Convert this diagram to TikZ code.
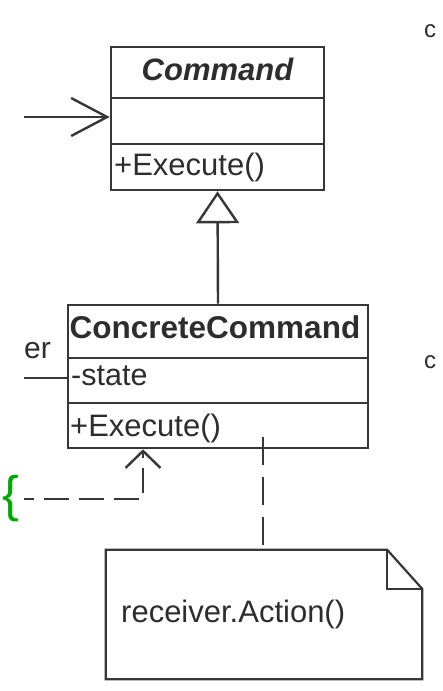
\documentclass[tikz,border=0pt]{standalone}
\usepackage{fontspec}
\setmainfont{Liberation Sans}
\usetikzlibrary{arrows.meta}
\definecolor{ink}{RGB}{55,55,55}
\definecolor{txt}{RGB}{45,45,45}
\definecolor{bracegreen}{RGB}{0,170,0}
\begin{document}
\begin{tikzpicture}[x=1pt,y=-1pt,
  classbox/.style={draw=ink, line width=2.6pt, inner sep=0pt},
  divider/.style={draw=ink, line width=2pt},
  conn/.style={draw=ink, line width=2.4pt},
  dashconn/.style={draw=ink, line width=2.4pt, dash pattern=on 25pt off 10pt},
  notebox/.style={draw=ink, line width=2.2pt, line join=miter},
  title/.style={text=txt, inner sep=0pt, font=\fontsize{30}{36}\selectfont},
  member/.style={text=txt, inner sep=0pt, font=\fontsize{31}{36}\selectfont},
  stray/.style={text=txt, inner sep=0pt, font=\fontsize{24}{28}\selectfont}]
\fill[white] (0,0) rectangle (443,691);
\useasboundingbox (0,0) rectangle (443,691);

% Command class
\node[classbox, minimum width=213pt, minimum height=143pt] (cmd) at (217.5,118.5) {};
\coordinate (cmdd1) at (0,98);
\coordinate (cmdd2) at (0,144);
\draw[divider] (cmd.west |- cmdd1) -- (cmd.east |- cmdd1);
\draw[divider] (cmd.west |- cmdd2) -- (cmd.east |- cmdd2);
\node[title, anchor=base, font=\fontsize{31}{36}\selectfont\bfseries\itshape] (cmdname) at (217.5,80) {Command};
\node[member, anchor=base west] (cmdop) at (114,175) {+Execute()};

% ConcreteCommand class
\node[classbox, minimum width=300pt, minimum height=143pt] (cc) at (218,376.5) {};
\coordinate (ccd1) at (0,358);
\coordinate (ccd2) at (0,403);
\draw[divider] (cc.west |- ccd1) -- (cc.east |- ccd1);
\draw[divider] (cc.west |- ccd2) -- (cc.east |- ccd2);
\node[title, anchor=base, font=\fontsize{31.5}{36}\selectfont\bfseries] (ccname) at (215,338) {ConcreteCommand};
\node[member, anchor=base west, font=\fontsize{30.5}{36}\selectfont] (ccstate) at (71,385) {-state};
\node[member, anchor=base west] (ccop) at (70,436) {+Execute()};

% inheritance
\draw[conn, -{Triangle[open, length=32pt, width=43pt]}] (cc.north) -- (cmd.south);

% incoming association to Command
\coordinate (lin) at (24,117);
\draw[conn, -{Straight Barb[length=36pt, width=38pt]}] (lin) -- (cmd.west |- lin);

% left label and association to state
\node[member, anchor=base west, font=\fontsize{30}{36}\selectfont] (er) at (24,358) {er};
\coordinate (lstate) at (24,378);
\draw[conn] (lstate) -- (cc.west |- lstate);

% dashed dependency
\coordinate (dstart) at (24,499);
\coordinate (dcorner) at (143,499);
\draw[dashconn, dash phase=15pt, -{Straight Barb[length=17pt, width=35pt]}] (dstart) -- (dcorner) -- (cc.south -| dcorner);
\node[text=bracegreen, inner sep=0pt, font=\fontsize{50}{50}\selectfont] (brace) at (10.5,499) {\{};

% note
\node[inner sep=0pt, minimum width=316pt, minimum height=129pt] (note) at (264,614.5) {};
\coordinate (fold1) at ([xshift=-35pt]note.north east);
\coordinate (fold2) at ([yshift=-39pt]note.north east);
\draw[notebox] (note.north west) -- (fold1) -- (fold2) -- (note.south east) -- (note.south west) -- cycle;
\draw[notebox] (fold1) -- (fold1 |- fold2) -- (fold2);
\node[member, anchor=base west] (notetext) at (121,622) {receiver.Action()};
\coordinate (dtop) at (263,437);
\draw[dashconn, dash pattern=on 28pt off 12pt] (dtop) -- (dtop |- note.north);

% stray fragments at right edge
\node[stray, anchor=base west] (c1) at (424,37) {c};
\node[stray, anchor=base west] (c2) at (424,368) {c};
\end{tikzpicture}
\end{document}
